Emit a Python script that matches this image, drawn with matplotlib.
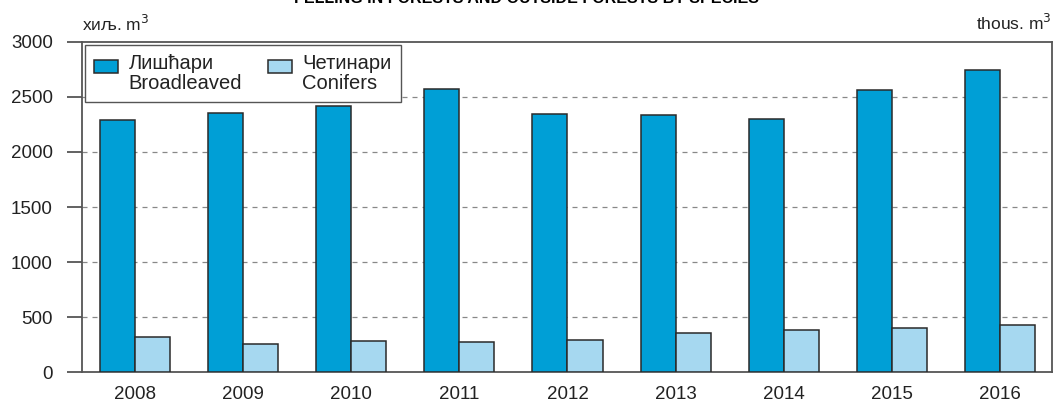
import numpy as np
import matplotlib.pyplot as plt
from matplotlib.patches import Patch, Rectangle
from matplotlib.legend_handler import HandlerPatch

plt.rcParams['font.family'] = ['Liberation Sans', 'DejaVu Sans']

years = ['2008', '2009', '2010', '2011', '2012', '2013', '2014', '2015', '2016']
broadleaved = [2290, 2355, 2418, 2573, 2345, 2336, 2300, 2564, 2745]
conifers = [321, 255, 285, 273, 291, 352, 382, 403, 427]
yticks = [0, 500, 1000, 1500, 2000, 2500, 3000]

c_broad = '#009fd6'
c_conif = '#a6d8f0'
edge = '#2a2a2a'
spine_c = '#555555'


def top_patch(legend, orig_handle, xdescent, ydescent, width, height, fontsize):
    # put the colour key level with the first text line
    return Rectangle((-xdescent, -ydescent + height * 0.55), width, height * 0.38)


fig = plt.figure(figsize=(10.54, 4.03), dpi=100)
ax = fig.add_axes([0.0778, 0.0769, 0.9202, 0.8189])

x = np.arange(len(years))
w = 0.324
ax.bar(x - w / 2, broadleaved, w, color=c_broad, edgecolor=edge, linewidth=1.1, zorder=3)
ax.bar(x + w / 2, conifers, w, color=c_conif, edgecolor=edge, linewidth=1.1, zorder=3)

ax.set_xlim(-0.49, 8.48)
ax.set_ylim(0, 3000)
ax.set_xticks(x)
ax.set_xticklabels(years, fontsize=13.5, color='#222222')
ax.set_yticks(yticks)
ax.set_yticklabels([str(v) for v in yticks], fontsize=13.5, color='#222222')
ax.tick_params(axis='x', length=0, pad=10)
ax.tick_params(axis='y', length=11, width=1.3, color=spine_c, pad=10)

for v in yticks[1:-1]:
    ax.axhline(v, color='#888888', linestyle=(0, (4, 4)), linewidth=0.9, zorder=1)

for s in ['left', 'right', 'top', 'bottom']:
    ax.spines[s].set_color(spine_c)
    ax.spines[s].set_linewidth(1.3)

ax.text(0.0, 1.028, 'хиљ. m$^3$', transform=ax.transAxes, fontsize=12.5,
        ha='left', va='bottom', color='#222222')
ax.text(1.0, 1.028, 'thous. m$^3$', transform=ax.transAxes, fontsize=12.5,
        ha='right', va='bottom', color='#222222')

handles = [Patch(facecolor=c_broad, edgecolor=edge, linewidth=1.1),
           Patch(facecolor=c_conif, edgecolor=edge, linewidth=1.1)]
leg = ax.legend(handles, ['Лишћари\nBroadleaved', 'Четинари\nConifers'],
                loc='upper left', ncol=2, fontsize=14.5, frameon=True,
                fancybox=False, edgecolor=spine_c, borderaxespad=0.15,
                handlelength=1.2, handleheight=2.2, columnspacing=1.3,
                handletextpad=0.5, borderpad=0.45, framealpha=1,
                handler_map={Patch: HandlerPatch(patch_func=top_patch)})
leg.get_frame().set_linewidth(1.0)
for t in leg.get_texts():
    t.set_linespacing(1.08)
    t.set_color('#222222')

fig.text(0.5, 1 - 6 / 403, 'FELLING IN FORESTS AND OUTSIDE FORESTS BY SPECIES',
         ha='center', va='bottom', fontsize=11.5, fontweight='bold')

fig.savefig('out.png', dpi=100)
